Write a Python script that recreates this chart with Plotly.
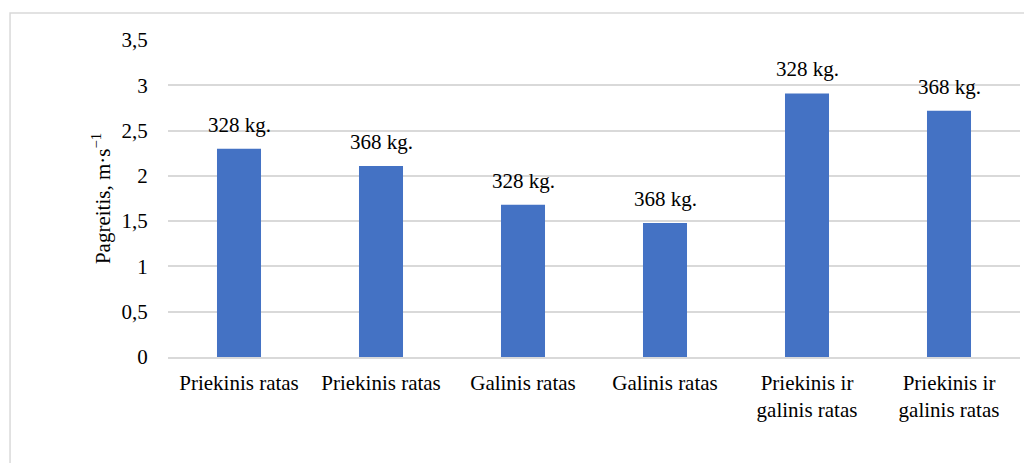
import plotly.graph_objects as go

# Wheel configuration categories and measured acceleration
categories = ["Priekinis ratas", "Priekinis ratas", "Galinis ratas", "Galinis ratas",
              "Priekinis ir<br>galinis ratas", "Priekinis ir<br>galinis ratas"]
acceleration = [2.3, 2.11, 1.68, 1.48, 2.91, 2.72]
mass_labels = ["328 kg.", "368 kg.", "328 kg.", "368 kg.", "328 kg.", "368 kg."]
y_ticks = [0, 0.5, 1, 1.5, 2, 2.5, 3, 3.5]
y_tick_text = ["0", "0,5", "1", "1,5", "2", "2,5", "3", "3,5"]

positions = list(range(len(categories)))
serif = "Liberation Serif"
fsize = 21

fig = go.Figure()
fig.add_trace(go.Bar(
    x=positions,
    y=acceleration,
    marker=dict(color="#4472C4", line=dict(width=0)),
    width=0.31,
    hoverinfo="skip",
))

for p, v, lab in zip(positions, acceleration, mass_labels):
    fig.add_annotation(x=p, y=v, text=lab, showarrow=False, yanchor="bottom",
                       yshift=10, font=dict(family=serif, size=fsize, color="#000000"))

# light frame around the chart area
fig.add_shape(type="rect", xref="paper", yref="paper",
              x0=-0.1854, x1=1.05, y0=-0.4, y1=1.085,
              line=dict(color="#d9d9d9", width=1.5), fillcolor="rgba(0,0,0,0)", layer="below")

fig.update_layout(
    width=1024, height=463,
    margin=dict(l=168, r=4, t=40, b=106),
    paper_bgcolor="white", plot_bgcolor="white",
    showlegend=False,
    font=dict(family=serif, size=fsize, color="#000000"),
    xaxis=dict(
        tickmode="array", tickvals=positions, ticktext=categories,
        range=[-0.5, 5.5], showgrid=False, zeroline=False,
        showline=True, linecolor="#d9d9d9", linewidth=1.5,
        ticks="outside", ticklen=6, tickcolor="rgba(0,0,0,0)",
        tickfont=dict(family=serif, size=fsize, color="#000000"),
    ),
    yaxis=dict(
        tickmode="array", tickvals=y_ticks, ticktext=y_tick_text,
        range=[0, 3.5], showgrid=True, gridcolor="#d9d9d9", gridwidth=1.5,
        zeroline=False, showline=False,
        ticks="outside", ticklen=15, tickcolor="rgba(0,0,0,0)",
        tickfont=dict(family=serif, size=fsize, color="#000000"),
        title=dict(text="Pagreitis, m·s<sup>−1</sup>", standoff=5,
                   font=dict(family=serif, size=fsize, color="#000000")),
    ),
)

fig.write_html("out.html")
